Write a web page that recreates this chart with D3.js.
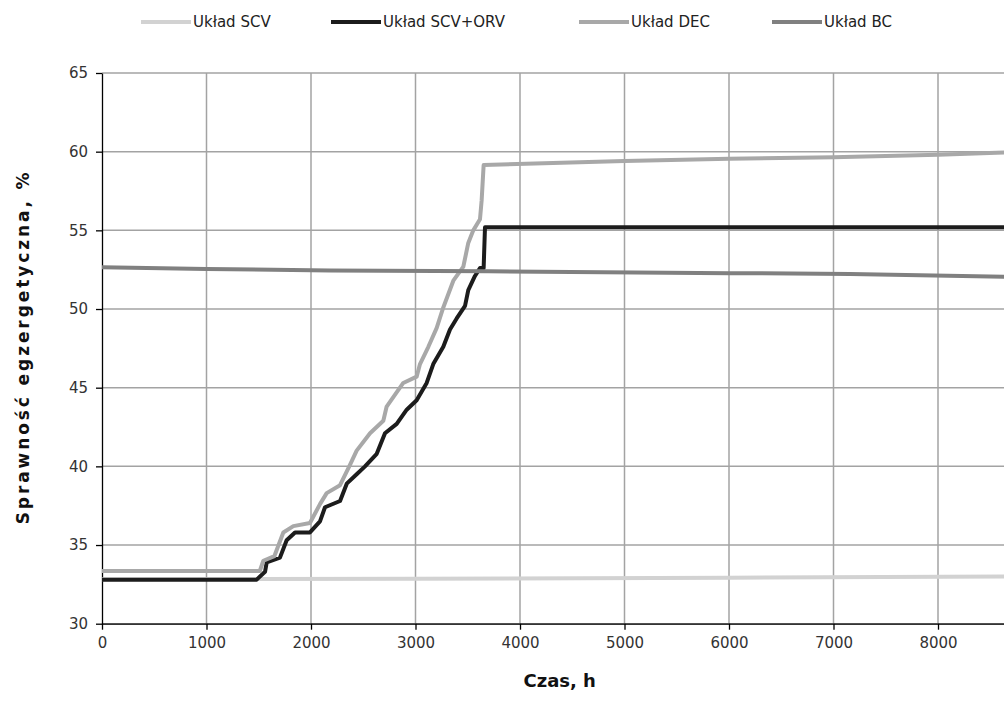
<!DOCTYPE html>
<html>
<head>
<meta charset="utf-8">
<title>Sprawność egzergetyczna</title>
<script src="https://d3js.org/d3.v7.min.js"></script>
<style>
body { margin: 0; background: #fff; }
svg { display: block; }
text { font-family: "DejaVu Sans", sans-serif; fill: #222; }
.grid line { stroke: #a3a3a3; stroke-width: 1.5px; }
.axis path, .axis line { stroke: #000; stroke-width: 1.3px; }
.axis text { font-size: 15px; fill: #333; }
.series { fill: none; stroke-width: 4px; stroke-linejoin: round; }
</style>
</head>
<body>
<svg width="1004" height="709"></svg>
<script>
// czas [h], sprawność [%]
var names = ["Układ SCV", "Układ SCV+ORV", "Układ DEC", "Układ BC"];
var colors = ["#d2d2d2", "#1c1c1c", "#a8a8a8", "#808080"];

var scv = [[0, 32.82], [3000, 32.86], [6000, 32.92], [8760, 33.0]];

var scvOrv = [[0, 32.8], [1480, 32.8], [1560, 33.3], [1576, 33.9], [1703, 34.2], [1767, 35.3],
  [1847, 35.8], [1990, 35.8], [2086, 36.5], [2134, 37.4], [2278, 37.8], [2342, 38.9],
  [2437, 39.5], [2517, 40.0], [2629, 40.8], [2708, 42.1], [2820, 42.7], [2916, 43.6],
  [3011, 44.2], [3107, 45.3], [3170, 46.5], [3266, 47.6], [3330, 48.7], [3394, 49.4],
  [3474, 50.2], [3505, 51.2], [3569, 52.1], [3617, 52.6], [3652, 52.6], [3665, 55.2],
  [8760, 55.2]];

var dec = [[0, 33.35], [1510, 33.35], [1544, 34.0], [1650, 34.3], [1735, 35.8], [1831, 36.2],
  [1990, 36.4], [2086, 37.6], [2150, 38.3], [2278, 38.8], [2373, 40.1], [2437, 41.0],
  [2565, 42.1], [2692, 42.9], [2724, 43.8], [2883, 45.3], [3011, 45.7], [3043, 46.5],
  [3123, 47.6], [3203, 48.8], [3266, 50.1], [3362, 51.8], [3458, 52.7], [3505, 54.2],
  [3553, 55.0], [3617, 55.7], [3633, 56.9], [3652, 59.15], [5000, 59.4], [6000, 59.55],
  [7000, 59.65], [8000, 59.8], [8760, 59.97]];

var bc = [[0, 52.66], [1000, 52.55], [2182, 52.44], [3700, 52.4], [6010, 52.28],
  [7160, 52.23], [8760, 52.03]];

var xTicks = [0, 1000, 2000, 3000, 4000, 5000, 6000, 7000, 8000];
var yTicks = [30, 35, 40, 45, 50, 55, 60, 65];

var series = [scv, scvOrv, dec, bc];

var svg = d3.select("svg");
var plotLeft = 102, plotTop = 73, plotBottom = 623.7;
var plotRight = plotLeft + 8.76 * 104.5; // wykres ucięty z prawej

var x = d3.scaleLinear().domain([0, 8760]).range([plotLeft, plotRight]);
var y = d3.scaleLinear().domain([30, 65]).range([plotBottom, plotTop]);

// siatka
svg.append("g").attr("class", "grid")
  .selectAll("line").data(yTicks).enter().append("line")
    .attr("x1", plotLeft).attr("x2", plotRight)
    .attr("y1", function(d) { return y(d); })
    .attr("y2", function(d) { return y(d); });

svg.append("g").attr("class", "grid")
  .selectAll("line").data(xTicks.slice(1)).enter().append("line")
    .attr("y1", plotTop).attr("y2", plotBottom)
    .attr("x1", function(d) { return x(d); })
    .attr("x2", function(d) { return x(d); });

// osie
svg.append("g").attr("class", "axis")
  .attr("transform", "translate(0," + plotBottom + ")")
  .call(d3.axisBottom(x).tickValues(xTicks).tickSize(6).tickSizeOuter(0).tickPadding(8).tickFormat(d3.format("d")));

svg.append("g").attr("class", "axis")
  .attr("transform", "translate(" + plotLeft + ",0)")
  .call(d3.axisLeft(y).tickValues(yTicks).tickSize(6).tickSizeOuter(0).tickPadding(8));

// serie
var line = d3.line()
  .x(function(d) { return x(d[0]); })
  .y(function(d) { return y(d[1]); });

svg.selectAll("path.series").data(series).enter().append("path")
  .attr("class", "series")
  .attr("stroke", function(d, i) { return colors[i]; })
  .attr("d", line);

// tytuły osi
svg.append("text")
  .attr("x", (plotLeft + plotRight) / 2).attr("y", 687)
  .attr("text-anchor", "middle")
  .style("font-size", "18px").style("font-weight", "bold").style("fill", "#111")
  .text("Czas, h");

svg.append("text")
  .attr("transform", "translate(29," + ((plotTop + plotBottom) / 2) + ") rotate(-90)")
  .attr("text-anchor", "middle")
  .attr("textLength", 352).attr("lengthAdjust", "spacing")
  .style("font-size", "17px").style("font-weight", "bold").style("fill", "#111")
  .text("Sprawność egzergetyczna, %");

// legenda
var legendX = [141, 331, 579, 772];
var legend = svg.selectAll("g.legend").data(names).enter().append("g")
  .attr("class", "legend")
  .attr("transform", function(d, i) { return "translate(" + legendX[i] + ",22)"; });

legend.append("line")
  .attr("x1", 0).attr("x2", 50).attr("y1", 0).attr("y2", 0)
  .attr("stroke", function(d, i) { return colors[i]; })
  .attr("stroke-width", 4);

legend.append("text")
  .attr("x", 52).attr("y", 5)
  .style("font-size", "15px").style("fill", "#222")
  .text(function(d) { return d; });
</script>
</body>
</html>
